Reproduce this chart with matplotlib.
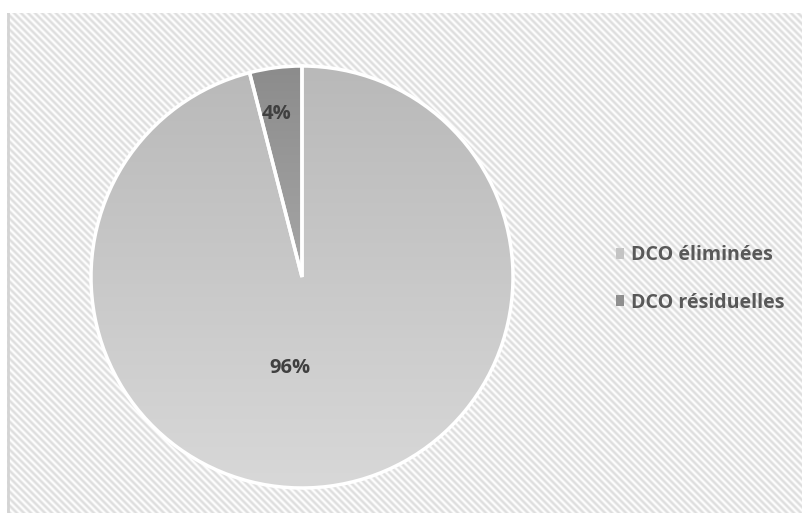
import numpy as np
import matplotlib
matplotlib.use("Agg")
import matplotlib.pyplot as plt
from matplotlib.patches import Patch
from matplotlib.colors import LinearSegmentedColormap

# DCO (demande chimique en oxygène) : part éliminée / part résiduelle
categories = ["DCO éliminées", "DCO résiduelles"]
parts = [96, 4]
couleurs_haut = ["#b9b9b9", "#8c8c8c"]
couleurs_bas = ["#d8d8d8", "#a6a6a6"]
couleurs_legende = ["#c4c4c4", "#8f8f8f"]

W, H = 802, 513
fig = plt.figure(figsize=(W / 100, H / 100), dpi=100)
fig.patch.set_facecolor("white")

# fond hachuré en diagonale
x0, y0 = 7, 13
ax_bg = fig.add_axes([x0 / W, 0, (W - x0) / W, (H - y0) / H])
yy, xx = np.mgrid[0:H - y0, 0:W - x0]
motif = 0.5 + 0.5 * np.cos(2 * np.pi * (xx - yy) / 7.0)
cmap_fond = LinearSegmentedColormap.from_list("fond", ["#fcfcfc", "#dddddd"])
ax_bg.imshow(motif, cmap=cmap_fond, aspect="auto", interpolation="bilinear")
ax_bg.axvline(0.5, color="#d4d4d4", lw=2)
ax_bg.set_axis_off()

# camembert
cx, cy, r = 302, H - 277, 211
ax = fig.add_axes([(cx - r) / W, (cy - r) / H, 2 * r / W, 2 * r / H])
wedges, textes, pcts = ax.pie(parts, startangle=90, counterclock=False,
                              autopct="%1.0f%%", pctdistance=0.6,
                              wedgeprops=dict(edgecolor="white", linewidth=2.5),
                              textprops=dict(fontsize=14.5, fontweight="bold",
                                             color="#404040", family="Open Sans"))
ax.set_xlim(-1, 1)
ax.set_ylim(-1, 1)
ax.set_aspect("equal")
ax.set_axis_off()

# dégradé vertical dans chaque secteur
for w, haut, bas in zip(wedges, couleurs_haut, couleurs_bas):
    w.set_facecolor("none")
    bb = w.get_path().get_extents(w.get_patch_transform())
    cm = LinearSegmentedColormap.from_list("g", [bas, haut])
    grad = np.linspace(0, 1, 256).reshape(-1, 1)
    im = ax.imshow(grad, cmap=cm, origin="lower", aspect="auto",
                   extent=[bb.x0, bb.x1, bb.y0, bb.y1], zorder=0.5)
    im.set_clip_path(w)
    w.set_zorder(1)
for t in pcts:
    t.set_zorder(3)

# position des étiquettes de pourcentage
positions = [(-0.057, -0.43), (-0.119, 0.771)]
for t, p in zip(pcts, positions):
    t.set_position(p)

poignees = [Patch(facecolor=c, edgecolor="none") for c in couleurs_legende]
fig.legend(poignees, categories, loc="center left",
           bbox_to_anchor=(598 / W, (H - 279) / H), frameon=False,
           handlelength=0.45, handleheight=0.45, handletextpad=0.35,
           labelspacing=1.4,
           prop=dict(family="Open Sans", weight="bold", size=14.1), labelcolor="#595959")

fig.savefig("out.png", dpi=100)
